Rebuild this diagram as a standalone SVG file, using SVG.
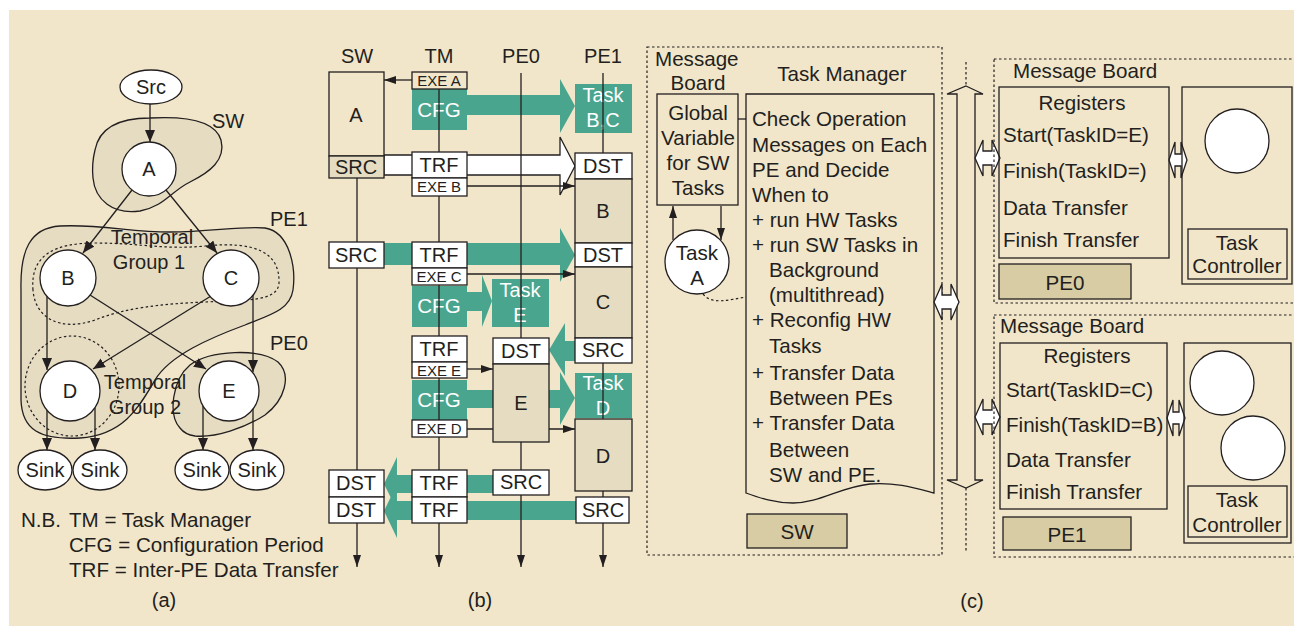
<svg xmlns="http://www.w3.org/2000/svg" width="1294" height="626" viewBox="0 0 1294 626">
<defs>
<style>
.t{font-family:"Liberation Sans",Arial,Helvetica,sans-serif;fill:#231f20}
.f20{font-size:20px}
.f21{font-size:20.6px}
.f15{font-size:15px}
.m{text-anchor:middle}
.wt{fill:#fff}
.ln{stroke:#231f20;stroke-width:1.3;fill:none}
.wb{fill:#fff;stroke:#231f20;stroke-width:1.3}
.sb{fill:#e6dcc1;stroke:#231f20;stroke-width:1.3}
.bb{fill:#f1e6ca;stroke:#231f20;stroke-width:1.3}
.nb{fill:none;stroke:#231f20;stroke-width:1.3}
.lb{fill:#d8cca4;stroke:#231f20;stroke-width:1.3}
.dot{stroke:#231f20;stroke-width:1.2;stroke-dasharray:2.5 2.5;fill:none}
.tl{fill:#4aa58f}
</style>
<marker id="ah" viewBox="0 0 12 10" refX="12" refY="5" markerWidth="12" markerHeight="10" markerUnits="userSpaceOnUse" orient="auto"><path d="M0,0 L12,5 L0,10 Z" fill="#231f20"/></marker>
<marker id="sa" viewBox="0 0 12 8" refX="12" refY="4" markerWidth="12" markerHeight="8" markerUnits="userSpaceOnUse" orient="auto"><path d="M0,0 L12,4 L0,8 Z" fill="#231f20"/></marker>
<path id="dbl" d="M0,0 L8,-18 L8,-7 L17,-7 L17,-18 L25,0 L17,18 L17,7 L8,7 L8,18 Z"/>
<path id="dbs" d="M0,0 L6,-18 L6,-6 L12,-6 L12,-18 L18,0 L12,18 L12,6 L6,6 L6,18 Z"/>
</defs>
<rect width="1294" height="626" fill="#fff"/>
<rect x="9" y="10" width="1285" height="616" fill="#f1e6ca"/>

<!-- ============ Panel (a) ============ -->
<g id="a-regions">
<path id="region-sw" class="sb" d="M95,150 C100,124 125,118 150,118 C185,116 215,120 221,140 C226,160 210,172 190,182 C170,192 165,206 140,211 C113,215 95,200 93,178 C92,168 93,158 95,150 Z"/>
<path id="region-pe1" class="sb" d="M21,290 C20,250 30,228 60,226 C100,224 130,232 170,232 C210,232 240,226 265,228 C290,232 296,268 293,290 C290,310 270,315 245,325 C210,338 170,355 155,380 C140,405 125,435 80,438 C40,440 22,430 21,400 Z"/>
<path id="region-pe0" class="sb" d="M180,428 C168,415 172,380 190,365 C210,350 260,348 278,362 C292,375 285,400 265,415 C245,428 215,438 195,436 C188,435 183,432 180,428 Z"/>
<path id="temporal-group-1" class="dot" d="M33,290 C30,255 55,243 95,243 C140,243 165,250 205,246 C255,241 280,252 279,283 C278,302 245,300 205,302 C160,304 125,308 95,320 C60,332 35,318 33,290 Z"/>
<ellipse id="temporal-group-2" class="dot" cx="72" cy="386" rx="47" ry="50"/>
<text class="t f20" x="212" y="128">SW</text>
<text class="t f20" x="270" y="226">PE1</text>
<text class="t f20" x="270" y="350">PE0</text>
<text class="t f20 m" x="152" y="244">Temporal</text>
<text class="t f20 m" x="149" y="269">Group 1</text>
<text class="t f20 m" x="145" y="389">Temporal</text>
<text class="t f20 m" x="145" y="414">Group 2</text>
</g>
<g id="a-connectors" class="ln">
<line x1="150" y1="104" x2="150" y2="142" marker-end="url(#ah)"/>
<line x1="132" y1="190" x2="83" y2="253" marker-end="url(#ah)"/>
<line x1="166" y1="190" x2="217" y2="253" marker-end="url(#ah)"/>
<line x1="47" y1="296" x2="47" y2="370" marker-end="url(#ah)"/>
<line x1="90" y1="295" x2="206" y2="369" marker-end="url(#ah)"/>
<line x1="211" y1="296" x2="93" y2="369" marker-end="url(#ah)"/>
<line x1="253" y1="295" x2="253" y2="372" marker-end="url(#ah)"/>
<line x1="47" y1="410" x2="47" y2="450" marker-end="url(#ah)"/>
<line x1="95" y1="408" x2="95" y2="450" marker-end="url(#ah)"/>
<line x1="203" y1="406" x2="203" y2="450" marker-end="url(#ah)"/>
<line x1="253" y1="408" x2="253" y2="450" marker-end="url(#ah)"/>
</g>
<g id="node-src"><ellipse class="wb" cx="151" cy="87" rx="31" ry="17"/><text class="t f20 m" x="151" y="94">Src</text></g>
<g id="node-a"><circle class="wb" cx="149" cy="169" r="27"/><text class="t f20 m" x="149" y="176">A</text></g>
<g id="node-b"><circle class="wb" cx="68" cy="278" r="28"/><text class="t f20 m" x="68" y="285">B</text></g>
<g id="node-c"><circle class="wb" cx="231" cy="278" r="28"/><text class="t f20 m" x="231" y="285">C</text></g>
<g id="node-d"><circle class="wb" cx="70" cy="391" r="30"/><text class="t f20 m" x="70" y="398">D</text></g>
<g id="node-e"><circle class="wb" cx="229" cy="391" r="30"/><text class="t f20 m" x="229" y="398">E</text></g>
<g id="node-sink1"><ellipse class="wb" cx="45" cy="470" rx="27" ry="20"/><text class="t f20 m" x="45" y="477">Sink</text></g>
<g id="node-sink2"><ellipse class="wb" cx="100" cy="470" rx="27" ry="20"/><text class="t f20 m" x="100" y="477">Sink</text></g>
<g id="node-sink3"><ellipse class="wb" cx="202" cy="470" rx="27" ry="20"/><text class="t f20 m" x="202" y="477">Sink</text></g>
<g id="node-sink4"><ellipse class="wb" cx="257" cy="470" rx="27" ry="20"/><text class="t f20 m" x="257" y="477">Sink</text></g>
<g id="a-notes">
<text class="t f21" x="21" y="527">N.B.</text>
<text class="t f21" x="69" y="527">TM = Task Manager</text>
<text class="t f21" x="69" y="552">CFG = Configuration Period</text>
<text class="t f21" x="69" y="577">TRF = Inter-PE Data Transfer</text>
<text class="t f20 m" x="164" y="607">(a)</text>
</g>

<!-- ============ Panel (b) ============ -->
<g id="b-headers">
<text class="t f20 m" x="357" y="63">SW</text>
<text class="t f20 m" x="439" y="63">TM</text>
<text class="t f20 m" x="521" y="63">PE0</text>
<text class="t f20 m" x="603" y="63">PE1</text>
</g>
<g id="b-teal">
<polygon class="tl" points="467,95 560,95 560,79 575,106 560,133 560,115 467,115"/>
<polygon class="tl" points="384,243 560,243 560,228 575,255 560,282 560,265 384,265"/>
<polygon class="tl" points="467,292 482,292 482,275 492,301 482,327 482,311 467,311"/>
<polygon class="tl" points="576,341 565,341 565,323 549,350 565,376 565,361 576,361"/>
<polygon class="tl" points="467,390 560,390 560,372 575,398 560,425 560,408 467,408"/>
<polygon class="tl" points="493,475 397,475 397,457 384,484 397,510 397,493 493,493"/>
<polygon class="tl" points="576,501 397,501 397,484 384,511 397,538 397,520 576,520"/>
<polygon class="wb" points="384,155 560,155 560,137 575,166 560,195 560,175 384,175"/>
</g>
<g id="b-cfg-task">
<g id="cfg1"><rect class="tl" x="412" y="89" width="55" height="41"/><text class="t f21 m wt" x="439" y="117">CFG</text></g>
<g id="task-bc"><rect class="tl" x="575" y="84" width="57" height="49"/><text class="t f20 m wt" x="603" y="102">Task</text><text class="t f20 m wt" x="603" y="127">B,C</text></g>
<g id="cfg2"><rect class="tl" x="412" y="286" width="55" height="41"/><text class="t f21 m wt" x="439" y="313">CFG</text></g>
<g id="task-e"><rect class="tl" x="492" y="279" width="57" height="48"/><text class="t f20 m wt" x="520" y="297">Task</text><text class="t f20 m wt" x="520" y="322">E</text></g>
<g id="cfg3"><rect class="tl" x="412" y="380" width="55" height="40"/><text class="t f21 m wt" x="439" y="407">CFG</text></g>
<g id="task-d"><rect class="tl" x="575" y="373" width="57" height="45"/><text class="t f20 m wt" x="603" y="390">Task</text><text class="t f20 m wt" x="603" y="415">D</text></g>
</g>
<g id="b-lifelines" class="ln">
<line x1="357" y1="72" x2="357" y2="567" marker-end="url(#sa)"/>
<line x1="439" y1="72" x2="439" y2="567" marker-end="url(#sa)"/>
<line x1="521" y1="73" x2="521" y2="567" marker-end="url(#sa)"/>
<line x1="603" y1="73" x2="603" y2="567" marker-end="url(#sa)"/>
</g>
<g id="b-exe-arrows" class="ln">
<line x1="412" y1="80" x2="384" y2="80" marker-end="url(#sa)"/>
<line x1="467" y1="186" x2="575" y2="186" marker-end="url(#sa)"/>
<line x1="467" y1="274" x2="575" y2="274" marker-end="url(#sa)"/>
<line x1="467" y1="369" x2="493" y2="369" marker-end="url(#sa)"/>
<line x1="467" y1="429" x2="575" y2="429" marker-end="url(#sa)"/>
</g>
<g id="b-sw-col">
<g id="sw-a"><rect class="bb" x="329" y="72" width="55" height="84"/><text class="t f20 m" x="356" y="122">A</text></g>
<g id="sw-src1"><rect class="sb" x="329" y="156" width="55" height="22"/><text class="t f20 m" x="356" y="174">SRC</text></g>
<g id="sw-src2"><rect class="wb" x="329" y="242" width="55" height="26"/><text class="t f20 m" x="356" y="262">SRC</text></g>
<g id="sw-dst1"><rect class="wb" x="329" y="470" width="55" height="27"/><text class="t f20 m" x="356" y="490">DST</text></g>
<g id="sw-dst2"><rect class="wb" x="329" y="497" width="55" height="26"/><text class="t f20 m" x="356" y="517">DST</text></g>
</g>
<g id="b-tm-col">
<g id="exe-a"><rect class="bb" x="412" y="72" width="55" height="17"/><text class="t f15 m" x="439" y="86">EXE A</text></g>
<g id="trf1"><rect class="wb" x="412" y="152" width="55" height="26"/><text class="t f20 m" x="439" y="172">TRF</text></g>
<g id="exe-b"><rect class="wb" x="412" y="178" width="55" height="18"/><text class="t f15 m" x="439" y="192">EXE B</text></g>
<g id="trf2"><rect class="wb" x="412" y="242" width="55" height="26"/><text class="t f20 m" x="439" y="262">TRF</text></g>
<g id="exe-c"><rect class="wb" x="412" y="268" width="55" height="17"/><text class="t f15 m" x="439" y="282">EXE C</text></g>
<g id="trf3"><rect class="wb" x="412" y="336" width="55" height="26"/><text class="t f20 m" x="439" y="356">TRF</text></g>
<g id="exe-e"><rect class="wb" x="412" y="362" width="55" height="16"/><text class="t f15 m" x="439" y="376">EXE E</text></g>
<g id="exe-d"><rect class="wb" x="412" y="420" width="55" height="17"/><text class="t f15 m" x="439" y="434">EXE D</text></g>
<g id="trf4"><rect class="wb" x="412" y="470" width="55" height="27"/><text class="t f20 m" x="439" y="490">TRF</text></g>
<g id="trf5"><rect class="wb" x="412" y="497" width="55" height="26"/><text class="t f20 m" x="439" y="517">TRF</text></g>
</g>
<g id="b-pe0-col">
<g id="pe0-dst"><rect class="wb" x="493" y="338" width="56" height="26"/><text class="t f20 m" x="521" y="358">DST</text></g>
<g id="pe0-e"><rect class="sb" x="493" y="364" width="56" height="78"/><text class="t f20 m" x="521" y="410">E</text></g>
<g id="pe0-src"><rect class="wb" x="493" y="470" width="56" height="25"/><text class="t f20 m" x="521" y="489">SRC</text></g>
</g>
<g id="b-pe1-col">
<g id="pe1-dst1"><rect class="wb" x="575" y="153" width="57" height="26"/><text class="t f20 m" x="603" y="173">DST</text></g>
<g id="pe1-b"><rect class="sb" x="575" y="179" width="57" height="64"/><text class="t f20 m" x="603" y="218">B</text></g>
<g id="pe1-dst2"><rect class="wb" x="575" y="243" width="57" height="24"/><text class="t f20 m" x="603" y="262">DST</text></g>
<g id="pe1-c"><rect class="sb" x="575" y="267" width="57" height="71"/><text class="t f20 m" x="603" y="309">C</text></g>
<g id="pe1-src1"><rect class="wb" x="575" y="338" width="57" height="25"/><text class="t f20 m" x="603" y="357">SRC</text></g>
<g id="pe1-d"><rect class="sb" x="575" y="419" width="57" height="72"/><text class="t f20 m" x="603" y="463">D</text></g>
<g id="pe1-src2"><rect class="wb" x="576" y="497" width="53" height="26"/><text class="t f20 m" x="603" y="517">SRC</text></g>
</g>
<text class="t f20 m" x="480" y="607">(b)</text>

<!-- ============ Panel (c) ============ -->
<g id="c-sw">
<rect class="dot" x="647" y="47" width="295" height="508"/>
<text class="t f21" x="655" y="66">Message</text>
<text class="t f21 m" x="698" y="90">Board</text>
<text class="t f21 m" x="842" y="81">Task Manager</text>
<g id="global-variable"><rect class="nb" x="657" y="94" width="81" height="111"/>
<text class="t f21 m" x="698" y="120">Global</text><text class="t f21 m" x="698" y="145">Variable</text><text class="t f21 m" x="698" y="170">for SW</text><text class="t f21 m" x="698" y="195">Tasks</text></g>
<g id="task-manager">
<path class="nb" d="M746,94 H934 V493 C915,488 895,482 870,484 C840,487 820,503 793,503 C775,503 760,498 746,493 Z"/>
<text class="t f21" x="752" y="126">Check Operation</text>
<text class="t f21" x="752" y="152">Messages on Each</text>
<text class="t f21" x="752" y="177">PE and Decide</text>
<text class="t f21" x="752" y="202">When to</text>
<text class="t f21" x="752" y="227">+ run HW Tasks</text>
<text class="t f21" x="752" y="252">+ run SW Tasks in</text>
<text class="t f21" x="769" y="277">Background</text>
<text class="t f21" x="769" y="302">(multithread)</text>
<text class="t f21" x="752" y="327">+ Reconfig HW</text>
<text class="t f21" x="769" y="353">Tasks</text>
<text class="t f21" x="752" y="380">+ Transfer Data</text>
<text class="t f21" x="769" y="405">Between PEs</text>
<text class="t f21" x="752" y="430">+ Transfer Data</text>
<text class="t f21" x="769" y="457">Between</text>
<text class="t f21" x="769" y="482">SW and PE.</text>
</g>
<g id="task-a"><circle class="wb" cx="697" cy="262" r="32"/><text class="t f21 m" x="697" y="260">Task</text><text class="t f21 m" x="697" y="285">A</text></g>
<g id="sw-label"><rect class="lb" x="747" y="514" width="100" height="34"/><text class="t f21 m" x="797" y="539">SW</text></g>
</g>
<g id="c-connectors">
<line class="ln" x1="738" y1="119" x2="746" y2="119"/>
<line class="ln" x1="673" y1="240" x2="673" y2="206" marker-end="url(#sa)"/>
<line class="ln" x1="721" y1="206" x2="721" y2="240" marker-end="url(#sa)"/>
<path class="dot" d="M703,294 C712,305 728,300 746,297"/>
<line class="dot" x1="966" y1="62" x2="966" y2="86"/>
<line class="dot" x1="966" y1="488" x2="966" y2="553"/>
<polygon class="bb" points="966,86 983,94 975,94 975,480 983,480 966,488 947,480 957,480 957,94 947,94"/>
<use href="#dbl" class="wb" x="934" y="302"/>
<use href="#dbl" class="wb" x="975" y="158"/>
<use href="#dbl" class="wb" x="975" y="417"/>
<use href="#dbs" class="wb" x="1169" y="160"/>
<use href="#dbs" class="wb" x="1167" y="418"/>
</g>
<g id="c-pe0">
<rect class="dot" x="994" y="59" width="310" height="244"/>
<text class="t f21" x="1013" y="78">Message Board</text>
<g id="pe0-registers"><rect class="nb" x="999" y="87" width="170" height="171"/>
<text class="t f21 m" x="1082" y="110">Registers</text>
<text class="t f21" x="1003" y="142">Start(TaskID=E)</text>
<text class="t f21" x="1003" y="178">Finish(TaskID=)</text>
<text class="t f21" x="1003" y="215">Data Transfer</text>
<text class="t f21" x="1003" y="247">Finish Transfer</text></g>
<g id="pe0-label"><rect class="lb" x="999" y="264" width="132" height="35"/><text class="t f21 m" x="1065" y="290">PE0</text></g>
<g id="pe0-task-controller"><rect class="nb" x="1182" y="87" width="110" height="197"/>
<circle class="wb" cx="1237" cy="141" r="32"/>
<rect class="nb" x="1188" y="229" width="99" height="50"/>
<text class="t f21 m" x="1237" y="250">Task</text><text class="t f21 m" x="1237" y="273">Controller</text></g>
</g>
<g id="c-pe1">
<rect class="dot" x="994" y="315" width="310" height="242"/>
<text class="t f21" x="1000" y="333">Message Board</text>
<g id="pe1-registers"><rect class="nb" x="1000" y="343" width="167" height="166"/>
<text class="t f21 m" x="1087" y="363">Registers</text>
<text class="t f21" x="1006" y="397">Start(TaskID=C)</text>
<text class="t f21" x="1006" y="432">Finish(TaskID=B)</text>
<text class="t f21" x="1006" y="467">Data Transfer</text>
<text class="t f21" x="1006" y="499">Finish Transfer</text></g>
<g id="pe1-label"><rect class="lb" x="1003" y="517" width="128" height="33"/><text class="t f21 m" x="1067" y="542">PE1</text></g>
<g id="pe1-task-controller"><rect class="nb" x="1184" y="343" width="107" height="200"/>
<circle class="wb" cx="1222" cy="383" r="32"/>
<circle class="wb" cx="1253" cy="448" r="32"/>
<rect class="nb" x="1188" y="486" width="99" height="51"/>
<text class="t f21 m" x="1237" y="507">Task</text><text class="t f21 m" x="1237" y="532">Controller</text></g>
</g>
<text class="t f20 m" x="972" y="608">(c)</text>
</svg>
